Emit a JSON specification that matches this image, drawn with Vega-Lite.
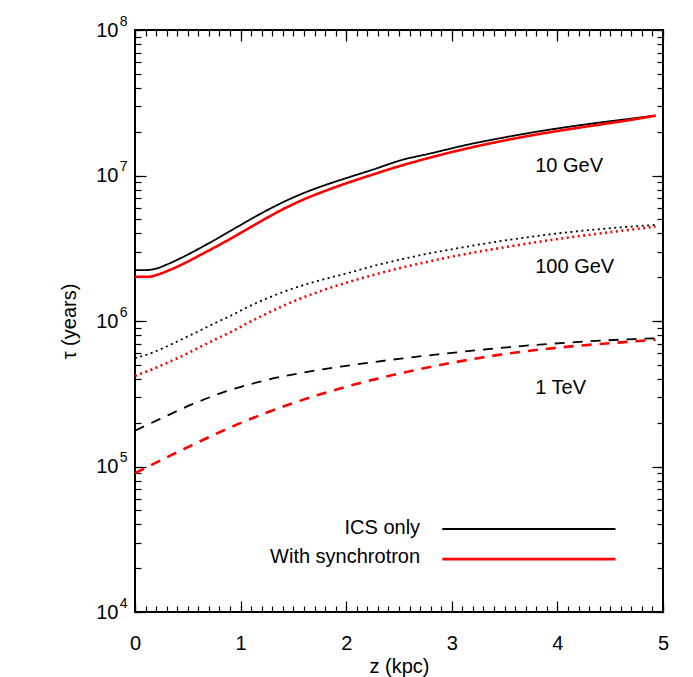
{
  "$schema": "https://vega.github.io/schema/vega-lite/v6.json",
  "width": 528,
  "height": 582,
  "autosize": {"type": "none"},
  "padding": {"left": 135, "top": 30, "right": 30, "bottom": 65},
  "background": "#ffffff",
  "config": {
    "view": {"stroke": "#000000", "strokeWidth": 2},
    "font": "Liberation Sans",
    "axis": {"domain": false, "grid": false, "ticks": true, "tickColor": "#000000", "tickOpacity": 1, "tickWidth": 1.2, "labelColor": "#000000", "labelFont": "Liberation Sans", "titleFont": "Liberation Sans", "titleColor": "#000000", "titleFontWeight": "normal", "labelOverlap": false, "labelFlush": false}
  },
  "datasets": {
    "curves": [
      {"z": 0, "tau": 2239000, "model": "ICS only", "energy": "10 GeV"},
      {"z": 0.1, "tau": 2239000, "model": "ICS only", "energy": "10 GeV"},
      {"z": 0.2, "tau": 2291000, "model": "ICS only", "energy": "10 GeV"},
      {"z": 0.3, "tau": 2443000, "model": "ICS only", "energy": "10 GeV"},
      {"z": 0.45, "tau": 2742000, "model": "ICS only", "energy": "10 GeV"},
      {"z": 0.6, "tau": 3126000, "model": "ICS only", "energy": "10 GeV"},
      {"z": 0.75, "tau": 3589000, "model": "ICS only", "energy": "10 GeV"},
      {"z": 0.9, "tau": 4150000, "model": "ICS only", "energy": "10 GeV"},
      {"z": 1.07, "tau": 4887000, "model": "ICS only", "energy": "10 GeV"},
      {"z": 1.23, "tau": 5662000, "model": "ICS only", "energy": "10 GeV"},
      {"z": 1.4, "tau": 6546000, "model": "ICS only", "energy": "10 GeV"},
      {"z": 1.6, "tau": 7586000, "model": "ICS only", "energy": "10 GeV"},
      {"z": 1.8, "tau": 8590000, "model": "ICS only", "energy": "10 GeV"},
      {"z": 2.0, "tau": 9594000, "model": "ICS only", "energy": "10 GeV"},
      {"z": 2.25, "tau": 10960000, "model": "ICS only", "energy": "10 GeV"},
      {"z": 2.52, "tau": 12740000, "model": "ICS only", "energy": "10 GeV"},
      {"z": 2.8, "tau": 14190000, "model": "ICS only", "energy": "10 GeV"},
      {"z": 3.15, "tau": 16290000, "model": "ICS only", "energy": "10 GeV"},
      {"z": 3.5, "tau": 18280000, "model": "ICS only", "energy": "10 GeV"},
      {"z": 3.78, "tau": 19860000, "model": "ICS only", "energy": "10 GeV"},
      {"z": 4.1, "tau": 21580000, "model": "ICS only", "energy": "10 GeV"},
      {"z": 4.41, "tau": 23170000, "model": "ICS only", "energy": "10 GeV"},
      {"z": 4.7, "tau": 24600000, "model": "ICS only", "energy": "10 GeV"},
      {"z": 4.93, "tau": 25820000, "model": "ICS only", "energy": "10 GeV"},

      {"z": 0, "tau": 2014000, "model": "With synchrotron", "energy": "10 GeV"},
      {"z": 0.13, "tau": 2014000, "model": "With synchrotron", "energy": "10 GeV"},
      {"z": 0.22, "tau": 2089000, "model": "With synchrotron", "energy": "10 GeV"},
      {"z": 0.32, "tau": 2228000, "model": "With synchrotron", "energy": "10 GeV"},
      {"z": 0.48, "tau": 2518000, "model": "With synchrotron", "energy": "10 GeV"},
      {"z": 0.63, "tau": 2871000, "model": "With synchrotron", "energy": "10 GeV"},
      {"z": 0.79, "tau": 3311000, "model": "With synchrotron", "energy": "10 GeV"},
      {"z": 0.95, "tau": 3837000, "model": "With synchrotron", "energy": "10 GeV"},
      {"z": 1.1, "tau": 4436000, "model": "With synchrotron", "energy": "10 GeV"},
      {"z": 1.26, "tau": 5164000, "model": "With synchrotron", "energy": "10 GeV"},
      {"z": 1.42, "tau": 5957000, "model": "With synchrotron", "energy": "10 GeV"},
      {"z": 1.6, "tau": 6855000, "model": "With synchrotron", "energy": "10 GeV"},
      {"z": 1.8, "tau": 7834000, "model": "With synchrotron", "energy": "10 GeV"},
      {"z": 2.0, "tau": 8831000, "model": "With synchrotron", "energy": "10 GeV"},
      {"z": 2.25, "tau": 10140000, "model": "With synchrotron", "energy": "10 GeV"},
      {"z": 2.52, "tau": 11690000, "model": "With synchrotron", "energy": "10 GeV"},
      {"z": 2.8, "tau": 13300000, "model": "With synchrotron", "energy": "10 GeV"},
      {"z": 3.15, "tau": 15380000, "model": "With synchrotron", "energy": "10 GeV"},
      {"z": 3.5, "tau": 17420000, "model": "With synchrotron", "energy": "10 GeV"},
      {"z": 3.78, "tau": 19010000, "model": "With synchrotron", "energy": "10 GeV"},
      {"z": 4.1, "tau": 20750000, "model": "With synchrotron", "energy": "10 GeV"},
      {"z": 4.41, "tau": 22440000, "model": "With synchrotron", "energy": "10 GeV"},
      {"z": 4.7, "tau": 24150000, "model": "With synchrotron", "energy": "10 GeV"},
      {"z": 4.93, "tau": 25760000, "model": "With synchrotron", "energy": "10 GeV"},

      {"z": 0, "tau": 554600, "model": "ICS only", "energy": "100 GeV"},
      {"z": 0.16, "tau": 603900, "model": "ICS only", "energy": "100 GeV"},
      {"z": 0.29, "tau": 663700, "model": "ICS only", "energy": "100 GeV"},
      {"z": 0.44, "tau": 746400, "model": "ICS only", "energy": "100 GeV"},
      {"z": 0.6, "tau": 849200, "model": "ICS only", "energy": "100 GeV"},
      {"z": 0.76, "tau": 970500, "model": "ICS only", "energy": "100 GeV"},
      {"z": 0.92, "tau": 1099000, "model": "ICS only", "energy": "100 GeV"},
      {"z": 1.07, "tau": 1250000, "model": "ICS only", "energy": "100 GeV"},
      {"z": 1.23, "tau": 1410000, "model": "ICS only", "energy": "100 GeV"},
      {"z": 1.42, "tau": 1600000, "model": "ICS only", "energy": "100 GeV"},
      {"z": 1.7, "tau": 1860000, "model": "ICS only", "energy": "100 GeV"},
      {"z": 2.0, "tau": 2120000, "model": "ICS only", "energy": "100 GeV"},
      {"z": 2.25, "tau": 2380000, "model": "ICS only", "energy": "100 GeV"},
      {"z": 2.52, "tau": 2650000, "model": "ICS only", "energy": "100 GeV"},
      {"z": 2.75, "tau": 2880000, "model": "ICS only", "energy": "100 GeV"},
      {"z": 3.0, "tau": 3110000, "model": "ICS only", "energy": "100 GeV"},
      {"z": 3.47, "tau": 3550000, "model": "ICS only", "energy": "100 GeV"},
      {"z": 3.94, "tau": 3950000, "model": "ICS only", "energy": "100 GeV"},
      {"z": 4.41, "tau": 4285000, "model": "ICS only", "energy": "100 GeV"},
      {"z": 4.93, "tau": 4581000, "model": "ICS only", "energy": "100 GeV"},

      {"z": 0, "tau": 419800, "model": "With synchrotron", "energy": "100 GeV"},
      {"z": 0.16, "tau": 464500, "model": "With synchrotron", "energy": "100 GeV"},
      {"z": 0.29, "tau": 510500, "model": "With synchrotron", "energy": "100 GeV"},
      {"z": 0.44, "tau": 571500, "model": "With synchrotron", "energy": "100 GeV"},
      {"z": 0.6, "tau": 653100, "model": "With synchrotron", "energy": "100 GeV"},
      {"z": 0.76, "tau": 746400, "model": "With synchrotron", "energy": "100 GeV"},
      {"z": 0.92, "tau": 849200, "model": "With synchrotron", "energy": "100 GeV"},
      {"z": 1.07, "tau": 970500, "model": "With synchrotron", "energy": "100 GeV"},
      {"z": 1.23, "tau": 1109000, "model": "With synchrotron", "energy": "100 GeV"},
      {"z": 1.42, "tau": 1288000, "model": "With synchrotron", "energy": "100 GeV"},
      {"z": 1.7, "tau": 1552000, "model": "With synchrotron", "energy": "100 GeV"},
      {"z": 2.0, "tau": 1832000, "model": "With synchrotron", "energy": "100 GeV"},
      {"z": 2.25, "tau": 2065000, "model": "With synchrotron", "energy": "100 GeV"},
      {"z": 2.52, "tau": 2323000, "model": "With synchrotron", "energy": "100 GeV"},
      {"z": 2.75, "tau": 2535000, "model": "With synchrotron", "energy": "100 GeV"},
      {"z": 3.0, "tau": 2767000, "model": "With synchrotron", "energy": "100 GeV"},
      {"z": 3.47, "tau": 3184000, "model": "With synchrotron", "energy": "100 GeV"},
      {"z": 3.94, "tau": 3606000, "model": "With synchrotron", "energy": "100 GeV"},
      {"z": 4.41, "tau": 4000000, "model": "With synchrotron", "energy": "100 GeV"},
      {"z": 4.93, "tau": 4457000, "model": "With synchrotron", "energy": "100 GeV"},

      {"z": 0, "tau": 176200, "model": "ICS only", "energy": "1 TeV"},
      {"z": 0.25, "tau": 214300, "model": "ICS only", "energy": "1 TeV"},
      {"z": 0.55, "tau": 269200, "model": "ICS only", "energy": "1 TeV"},
      {"z": 0.9, "tau": 335000, "model": "ICS only", "energy": "1 TeV"},
      {"z": 1.25, "tau": 393600, "model": "ICS only", "energy": "1 TeV"},
      {"z": 1.58, "tau": 440600, "model": "ICS only", "energy": "1 TeV"},
      {"z": 2.0, "tau": 492000, "model": "ICS only", "energy": "1 TeV"},
      {"z": 2.5, "tau": 549500, "model": "ICS only", "energy": "1 TeV"},
      {"z": 2.87, "tau": 590200, "model": "ICS only", "energy": "1 TeV"},
      {"z": 3.31, "tau": 636800, "model": "ICS only", "energy": "1 TeV"},
      {"z": 3.78, "tau": 683900, "model": "ICS only", "energy": "1 TeV"},
      {"z": 4.29, "tau": 724400, "model": "ICS only", "energy": "1 TeV"},
      {"z": 4.73, "tau": 751600, "model": "ICS only", "energy": "1 TeV"},
      {"z": 4.93, "tau": 760300, "model": "ICS only", "energy": "1 TeV"},

      {"z": 0, "tau": 89950, "model": "With synchrotron", "energy": "1 TeV"},
      {"z": 0.2, "tau": 106200, "model": "With synchrotron", "energy": "1 TeV"},
      {"z": 0.38, "tau": 123300, "model": "With synchrotron", "energy": "1 TeV"},
      {"z": 0.54, "tau": 140300, "model": "With synchrotron", "energy": "1 TeV"},
      {"z": 0.71, "tau": 160300, "model": "With synchrotron", "energy": "1 TeV"},
      {"z": 0.88, "tau": 182400, "model": "With synchrotron", "energy": "1 TeV"},
      {"z": 1.04, "tau": 204600, "model": "With synchrotron", "energy": "1 TeV"},
      {"z": 1.21, "tau": 229100, "model": "With synchrotron", "energy": "1 TeV"},
      {"z": 1.41, "tau": 259400, "model": "With synchrotron", "energy": "1 TeV"},
      {"z": 1.56, "tau": 282500, "model": "With synchrotron", "energy": "1 TeV"},
      {"z": 1.74, "tau": 311200, "model": "With synchrotron", "energy": "1 TeV"},
      {"z": 2.0, "tau": 353200, "model": "With synchrotron", "energy": "1 TeV"},
      {"z": 2.26, "tau": 395400, "model": "With synchrotron", "energy": "1 TeV"},
      {"z": 2.5, "tau": 434500, "model": "With synchrotron", "energy": "1 TeV"},
      {"z": 2.81, "tau": 485300, "model": "With synchrotron", "energy": "1 TeV"},
      {"z": 2.98, "tau": 512900, "model": "With synchrotron", "energy": "1 TeV"},
      {"z": 3.53, "tau": 597000, "model": "With synchrotron", "energy": "1 TeV"},
      {"z": 4.08, "tau": 663700, "model": "With synchrotron", "energy": "1 TeV"},
      {"z": 4.63, "tau": 716100, "model": "With synchrotron", "energy": "1 TeV"},
      {"z": 4.93, "tau": 743000, "model": "With synchrotron", "energy": "1 TeV"}
    ],
    "energyLabels": [
      {"z": 3.79, "tau": 11700000, "label": "10 GeV"},
      {"z": 3.79, "tau": 2350000, "label": "100 GeV"},
      {"z": 3.79, "tau": 347000, "label": "1 TeV"}
    ],
    "legend": [
      {"model": "ICS only", "z0": 2.91, "z1": 4.55, "tau": 37200, "tz": 2.7, "ttau": 37700},
      {"model": "With synchrotron", "z0": 2.91, "z1": 4.55, "tau": 23100, "tz": 2.7, "ttau": 24000}
    ]
  },
  "layer": [
    {
      "data": {"name": "curves"},
      "mark": {"type": "line", "interpolate": "monotone"},
      "encoding": {
        "x": {
          "field": "z", "type": "quantitative",
          "scale": {"domain": [0, 5], "nice": false, "zero": false},
          "axis": {
            "orient": "bottom",
            "values": [0,0.1,0.2,0.3,0.4,0.5,0.6,0.7,0.8,0.9,1,1.1,1.2,1.3,1.4,1.5,1.6,1.7,1.8,1.9,2,2.1,2.2,2.3,2.4,2.5,2.6,2.7,2.8,2.9,3,3.1,3.2,3.3,3.4,3.5,3.6,3.7,3.8,3.9,4,4.1,4.2,4.3,4.4,4.5,4.6,4.7,4.8,4.9,5],
            "tickCount": 60,
            "labelExpr": "abs(datum.value - round(datum.value)) < 0.001 ? format(datum.value, 'd') : ''",
            "offset": -6, "tickSize": 6, "tickWidth": 1.2, "labelPadding": 21,
            "labelFontSize": 20,
            "title": "z (kpc)", "titleFontSize": 20, "titlePadding": 3
          }
        },
        "y": {
          "field": "tau", "type": "quantitative",
          "scale": {"type": "log", "domain": [10000, 100000000], "nice": false},
          "axis": {
            "orient": "left",
            "values": [10000,20000,30000,40000,50000,60000,70000,80000,90000,100000,200000,300000,400000,500000,600000,700000,800000,900000,1000000,2000000,3000000,4000000,5000000,6000000,7000000,8000000,9000000,10000000,20000000,30000000,40000000,50000000,60000000,70000000,80000000,90000000,100000000],
            "tickCount": 60,
            "labelExpr": "abs(log(datum.value)/LN10 - round(log(datum.value)/LN10)) < 0.001 ? '10' : ''",
            "offset": -6, "tickSize": 6, "tickWidth": 1.2, "labelPadding": 17,
            "labelFontSize": 20,
            "title": "τ (years)", "titleFontSize": 20, "titlePadding": 16
          }
        },
        "color": {
          "field": "model", "type": "nominal",
          "scale": {"domain": ["ICS only", "With synchrotron"], "range": ["#000000", "#ff0000"]},
          "legend": null
        },
        "strokeWidth": {
          "field": "model", "type": "nominal",
          "scale": {"domain": ["ICS only", "With synchrotron"], "range": [1.8, 2.6]},
          "legend": null
        },
        "strokeDash": {
          "field": "energy", "type": "nominal",
          "scale": {"domain": ["10 GeV", "100 GeV", "1 TeV"], "range": [[1, 0], [2, 3.5], [10, 8]]},
          "legend": null
        },
        "detail": {"field": "energy", "type": "nominal"}
      }
    },
    {
      "data": {"name": "energyLabels"},
      "mark": {"type": "text", "align": "left", "baseline": "middle", "fontSize": 20, "font": "Liberation Sans", "color": "#000000"},
      "encoding": {
        "x": {
          "field": "z", "type": "quantitative",
          "axis": {"orient": "top", "values": [0,0.1,0.2,0.3,0.4,0.5,0.6,0.7,0.8,0.9,1,1.1,1.2,1.3,1.4,1.5,1.6,1.7,1.8,1.9,2,2.1,2.2,2.3,2.4,2.5,2.6,2.7,2.8,2.9,3,3.1,3.2,3.3,3.4,3.5,3.6,3.7,3.8,3.9,4,4.1,4.2,4.3,4.4,4.5,4.6,4.7,4.8,4.9,5], "tickCount": 60, "labels": false, "offset": -6, "tickSize": 6, "tickWidth": 1.2, "title": null}
        },
        "y": {
          "field": "tau", "type": "quantitative",
          "axis": {"orient": "right", "values": [10000,20000,30000,40000,50000,60000,70000,80000,90000,100000,200000,300000,400000,500000,600000,700000,800000,900000,1000000,2000000,3000000,4000000,5000000,6000000,7000000,8000000,9000000,10000000,20000000,30000000,40000000,50000000,60000000,70000000,80000000,90000000,100000000], "tickCount": 60, "labels": false, "offset": -6, "tickSize": 6, "tickWidth": 1.2, "title": null}
        },
        "text": {"field": "label", "type": "nominal"}
      }
    },
    {
      "data": {"name": "legend"},
      "mark": {"type": "rule"},
      "encoding": {
        "x": {
          "field": "z0", "type": "quantitative",
          "axis": {"orient": "bottom", "values": [0, 1, 2, 3, 4, 5], "labels": false, "offset": -11, "tickSize": 11, "title": null}
        },
        "x2": {"field": "z1"},
        "y": {
          "field": "tau", "type": "quantitative",
          "axis": {"orient": "left", "values": [10000, 100000, 1000000, 10000000, 100000000], "labels": false, "offset": -11, "tickSize": 11, "title": null}
        },
        "color": {"field": "model", "type": "nominal", "legend": null},
        "strokeWidth": {"field": "model", "type": "nominal", "legend": null}
      }
    },
    {
      "data": {"name": "legend"},
      "mark": {"type": "text", "align": "right", "baseline": "middle", "fontSize": 20, "font": "Liberation Sans", "color": "#000000"},
      "encoding": {
        "x": {
          "field": "tz", "type": "quantitative",
          "axis": {"orient": "top", "values": [0, 1, 2, 3, 4, 5], "labels": false, "offset": -11, "tickSize": 11, "title": null}
        },
        "y": {
          "field": "ttau", "type": "quantitative",
          "axis": {"orient": "right", "values": [10000, 100000, 1000000, 10000000, 100000000], "labels": false, "offset": -11, "tickSize": 11, "title": null}
        },
        "text": {"field": "model", "type": "nominal"}
      }
    },
    {
      "data": {"name": "energyLabels"},
      "mark": {"type": "point", "opacity": 0},
      "encoding": {
        "x": {"field": "z", "type": "quantitative", "axis": null},
        "y": {
          "field": "tau", "type": "quantitative",
          "axis": {"orient": "left", "values": [10000, 100000, 1000000, 10000000, 100000000], "labelExpr": "round(log(datum.value)/LN10)", "tickSize": 0, "tickOpacity": 0, "labelPadding": 8, "labelOffset": -9, "labelFontSize": 14, "title": null}
        }
      }
    }
  ],
  "resolve": {"axis": {"x": "independent", "y": "independent"}}
}
